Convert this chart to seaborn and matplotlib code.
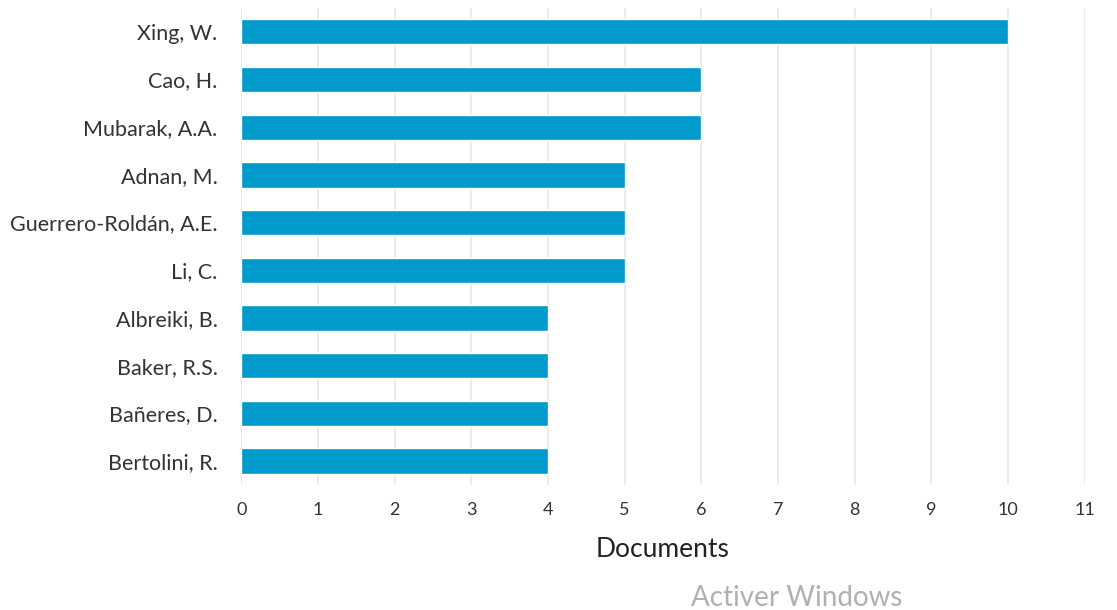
import matplotlib
matplotlib.use("Agg")
import matplotlib.pyplot as plt
import seaborn as sns
import pandas as pd

# données
authors = ["Xing, W.", "Cao, H.", "Mubarak, A.A.", "Adnan, M.", "Guerrero-Roldán, A.E.",
           "Li, C.", "Albreiki, B.", "Baker, R.S.", "Bañeres, D.", "Bertolini, R."]
documents = [10, 6, 6, 5, 5, 5, 4, 4, 4, 4]
x_ticks = list(range(0, 12))

df = pd.DataFrame({"author": authors, "documents": documents})

sns.set_theme(style="white")
plt.rcParams["font.family"] = ["Lato", "DejaVu Sans"]

fig = plt.figure(figsize=(11.17, 6.10), dpi=100)
ax = fig.add_axes([0.216, 0.205, 0.755, 0.782])

sns.barplot(data=df, x="documents", y="author", color="#009ACD", saturation=1,
            width=0.53, ax=ax, zorder=3)

ax.set_xlim(0, 11)
ax.set_ylim(len(authors) - 0.5, -0.5)
ax.set_xticks(x_ticks)
ax.xaxis.grid(True, color="#e8e8e8", linewidth=1.2, zorder=0)
ax.yaxis.grid(False)
for s in ax.spines.values():
    s.set_visible(False)
ax.tick_params(axis="x", length=0, colors="#333333", labelsize=13, pad=12)
ax.tick_params(axis="y", length=0, colors="#333333", labelsize=15.5, pad=17)
ax.set_ylabel("")
ax.set_xlabel("Documents", fontsize=19, color="#222222", labelpad=14)

fig.text(0.713, 0.02, "Activer Windows", fontsize=20, color="#b0b0b0", ha="center", va="center")

plt.savefig("out.png", dpi=100)
plt.close()
